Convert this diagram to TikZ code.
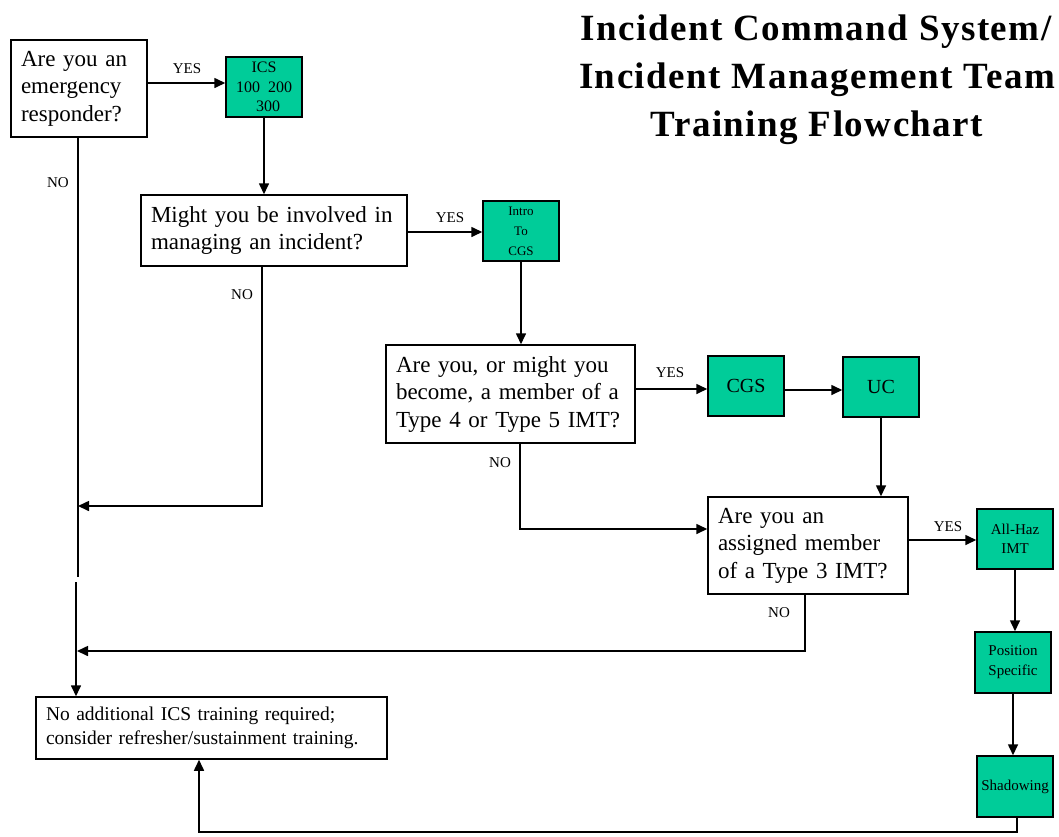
\documentclass[tikz,border=0pt]{standalone}
\usepackage{fontspec}
\setmainfont{Liberation Serif}
\newfontfamily\titlefont[LetterSpace=4]{Liberation Serif}
\usetikzlibrary{arrows.meta}
\definecolor{icsgreen}{RGB}{0,204,153}
\begin{document}
\begin{tikzpicture}[x=1pt,y=-1pt,
  qbox/.style={draw, line width=1.5pt, fill=white, align=left, inner xsep=10pt, inner ysep=0pt,
    font=\fontsize{23}{27.5}\selectfont},
  gbox/.style={draw, line width=1.5pt, fill=icsgreen, minimum width=76pt, minimum height=60pt,
    align=center, inner sep=0pt},
  arr/.style={line width=1.6pt, -{Triangle[length=11pt,width=10pt]}},
  ln/.style={line width=1.6pt},
  lbl/.style={font=\fontsize{15}{17}\selectfont, inner sep=0pt},
  ttl/.style={font=\titlefont\bfseries\fontsize{37}{44}\selectfont, anchor=base, inner sep=0pt}]
\useasboundingbox[fill=white] (0,0) rectangle (1059,836);

% title
\node[ttl] (t1) at (816,40) {Incident Command System/};
\node[ttl] (t2) at (817,88) {Incident Management Team};
\node[ttl] (t3) at (817,136) {Training Flowchart};

% question boxes
\node[qbox, text width=116pt, minimum height=97pt] (q1) at (79,88.5)
  {Are you an\\emergency\\responder?};
\node[qbox, text width=246pt, minimum height=71pt] (q2) at (274,230.5)
  {Might you be involved in\\managing an incident?};
\node[qbox, text width=229pt, minimum height=98pt] (q3) at (510.5,394)
  {Are you, or might you\\become, a member of a\\Type 4 or Type 5 IMT?};
\node[qbox, text width=180pt, minimum height=97pt] (q4) at (808,545.5)
  {Are you an\\assigned member\\of a Type 3 IMT?};
\node[qbox, text width=331pt, minimum height=62pt, font=\fontsize{19.5}{24}\selectfont] (q5) at (211.5,728)
  {No additional ICS training required;\\consider refresher/sustainment training.};

% green boxes
\node[gbox, font=\fontsize{16}{19.5}\selectfont] (ics) at (264,87) {ICS\\100\ \ 200\\\ \ 300};
\node[gbox, font=\fontsize{13}{20}\selectfont] (intro) at (521,231) {Intro\\To\\CGS};
\node[gbox, font=\fontsize{20}{24}\selectfont] (cgs) at (746,386) {CGS};
\node[gbox, font=\fontsize{20}{24}\selectfont] (uc) at (881,387) {UC};
\node[gbox, font=\fontsize{15}{19}\selectfont] (haz) at (1015,539) {All-Haz\\IMT};
\node[gbox, minimum height=61pt, font=\fontsize{15}{20}\selectfont] (pos) at (1013,662.5) {Position\\Specific};
\node[gbox, minimum height=61pt, font=\fontsize{15}{19}\selectfont] (shad) at (1015,786.5) {Shadowing};

% connectors
\draw[arr] (q1.east |- 0,83) -- (ics.west |- 0,83);
\draw[arr] (ics.south) -- (ics.south |- q2.north);
\draw[arr] (q2.east |- 0,232) -- (intro.west |- 0,232);
\draw[arr] (intro.south) -- (intro.south |- q3.north);
\draw[arr] (q3.east |- 0,389) -- (cgs.west |- 0,389);
\draw[arr] (cgs.east |- 0,390) -- (uc.west |- 0,390);
\draw[arr] (uc.south) -- (uc.south |- q4.north);
\draw[arr] (q4.east |- 0,540) -- (haz.west |- 0,540);
\draw[arr] (haz.south) -- (haz.south |- pos.north);
\draw[arr] (pos.south) -- (pos.south |- shad.north);

\coordinate (gtop) at (78,577);
\coordinate (gbot) at (76,582);
\coordinate (j1) at (78,506);
\coordinate (j2) at (77,651);
\coordinate (c5) at (199,832);
\draw[ln] (q1.south -| gtop) -- (gtop);
\draw[arr] (gbot) -- (gbot |- q5.north);
\draw[arr] ([xshift=-12pt]q2.south) |- (j1);
\draw[arr] ([xshift=9.5pt]q3.south) |- (q4.west |- 0,529);
\draw[arr] ([xshift=-3pt]q4.south) |- (j2);
\draw[arr] ([xshift=2pt]shad.south) |- (c5) -- (c5 |- q5.south);

% labels
\node[lbl] (y1) at (187,69) {YES};
\node[lbl] (n1) at (58,183) {NO};
\node[lbl] (y2) at (450,218) {YES};
\node[lbl] (n2) at (242,295) {NO};
\node[lbl] (y3) at (670,373) {YES};
\node[lbl] (n3) at (500,463) {NO};
\node[lbl] (y4) at (948,527) {YES};
\node[lbl] (n4) at (779,613) {NO};
\end{tikzpicture}
\end{document}
